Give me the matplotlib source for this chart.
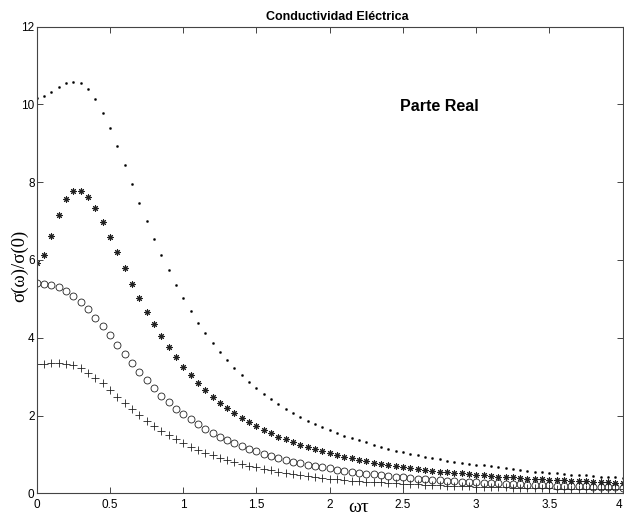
import matplotlib
matplotlib.use("Agg")
import matplotlib.pyplot as plt

wt = [0.00, 0.05, 0.10, 0.15, 0.20, 0.25, 0.30, 0.35, 0.40, 0.45,
      0.50, 0.55, 0.60, 0.65, 0.70, 0.75, 0.80, 0.85, 0.90, 0.95,
      1.00, 1.05, 1.10, 1.15, 1.20, 1.25, 1.30, 1.35, 1.40, 1.45,
      1.50, 1.55, 1.60, 1.65, 1.70, 1.75, 1.80, 1.85, 1.90, 1.95,
      2.00, 2.05, 2.10, 2.15, 2.20, 2.25, 2.30, 2.35, 2.40, 2.45,
      2.50, 2.55, 2.60, 2.65, 2.70, 2.75, 2.80, 2.85, 2.90, 2.95,
      3.00, 3.05, 3.10, 3.15, 3.20, 3.25, 3.30, 3.35, 3.40, 3.45,
      3.50, 3.55, 3.60, 3.65, 3.70, 3.75, 3.80, 3.85, 3.90, 3.95,
      4.00]

serie_puntos = [10.17, 10.21, 10.31, 10.44, 10.54, 10.59, 10.54, 10.39, 10.14, 9.79,
                9.39, 8.93, 8.44, 7.96, 7.47, 7.00, 6.55, 6.12, 5.73, 5.35,
                5.02, 4.69, 4.39, 4.12, 3.87, 3.63, 3.42, 3.21, 3.03, 2.85,
                2.70, 2.55, 2.42, 2.29, 2.17, 2.07, 1.96, 1.87, 1.78, 1.70,
                1.62, 1.55, 1.48, 1.42, 1.36, 1.31, 1.25, 1.20, 1.15, 1.10,
                1.06, 1.02, 0.98, 0.94, 0.91, 0.87, 0.84, 0.81, 0.78, 0.76,
                0.74, 0.72, 0.70, 0.67, 0.65, 0.62, 0.60, 0.58, 0.56, 0.55,
                0.53, 0.51, 0.50, 0.48, 0.47, 0.46, 0.44, 0.43, 0.42, 0.41,
                0.39]

serie_asteriscos = [5.92, 6.12, 6.61, 7.17, 7.57, 7.78, 7.78, 7.62, 7.33, 6.99,
                    6.59, 6.20, 5.79, 5.39, 5.03, 4.67, 4.35, 4.05, 3.75, 3.50,
                    3.26, 3.04, 2.84, 2.66, 2.48, 2.33, 2.19, 2.06, 1.94, 1.83,
                    1.72, 1.63, 1.54, 1.46, 1.39, 1.32, 1.25, 1.20, 1.14, 1.09,
                    1.04, 0.99, 0.94, 0.90, 0.86, 0.82, 0.79, 0.76, 0.73, 0.70,
                    0.68, 0.65, 0.62, 0.60, 0.58, 0.56, 0.54, 0.52, 0.51, 0.49,
                    0.48, 0.46, 0.45, 0.43, 0.42, 0.41, 0.39, 0.38, 0.37, 0.36,
                    0.35, 0.34, 0.33, 0.32, 0.31, 0.31, 0.30, 0.29, 0.28, 0.27,
                    0.26]

serie_circulos = [5.40, 5.38, 5.35, 5.30, 5.20, 5.08, 4.93, 4.74, 4.52, 4.29,
                  4.06, 3.81, 3.57, 3.34, 3.12, 2.91, 2.70, 2.51, 2.34, 2.18,
                  2.04, 1.90, 1.77, 1.66, 1.56, 1.46, 1.37, 1.29, 1.22, 1.15,
                  1.08, 1.02, 0.96, 0.91, 0.86, 0.81, 0.77, 0.73, 0.70, 0.67,
                  0.64, 0.61, 0.58, 0.56, 0.53, 0.50, 0.49, 0.46, 0.44, 0.43,
                  0.41, 0.39, 0.38, 0.36, 0.34, 0.33, 0.32, 0.31, 0.30, 0.29,
                  0.28, 0.27, 0.26, 0.255, 0.25, 0.24, 0.23, 0.225, 0.22, 0.21,
                  0.205, 0.20, 0.19, 0.185, 0.18, 0.175, 0.17, 0.16, 0.155, 0.15,
                  0.14]

serie_cruces = [3.33, 3.33, 3.34, 3.34, 3.33, 3.30, 3.23, 3.10, 2.97, 2.83,
                2.66, 2.48, 2.32, 2.16, 2.01, 1.87, 1.73, 1.61, 1.50, 1.39,
                1.29, 1.20, 1.12, 1.04, 0.98, 0.92, 0.86, 0.81, 0.75, 0.71,
                0.67, 0.63, 0.59, 0.56, 0.52, 0.50, 0.47, 0.44, 0.42, 0.39,
                0.37, 0.355, 0.34, 0.325, 0.31, 0.30, 0.29, 0.28, 0.27, 0.26,
                0.25, 0.24, 0.23, 0.22, 0.21, 0.205, 0.20, 0.19, 0.185, 0.175,
                0.17, 0.165, 0.16, 0.155, 0.15, 0.145, 0.14, 0.135, 0.13, 0.13,
                0.125, 0.12, 0.12, 0.115, 0.11, 0.11, 0.105, 0.105, 0.10, 0.10,
                0.10]

x_ticks = [0, 0.5, 1, 1.5, 2, 2.5, 3, 3.5, 4]
x_ticklabels = ["0", "0.5", "1", "1.5", "2", "2.5", "3", "3.5", "4"]
y_ticks = [0, 2, 4, 6, 8, 10, 12]
y_ticklabels = ["0", "2", "4", "6", "8", "10", "12"]

titulo = "Conductividad Eléctrica"
anotacion = "Parte Real"
etiqueta_y = "σ(ω)/σ(0)"
etiqueta_x = "ωτ"

sans = ["Liberation Sans", "DejaVu Sans"]
serif = ["Liberation Serif", "DejaVu Serif"]

W, H = 624, 519
fig = plt.figure(figsize=(W / 100, H / 100), dpi=100)
ax = fig.add_axes([36.7 / W, 1 - 493.3 / H, (622.7 - 36.7) / W, (493.3 - 26.7) / H])

ax.plot(wt, serie_puntos, linestyle="none", marker="o", markersize=1.5,
        markerfacecolor="black", markeredgecolor="black", markeredgewidth=0.3)
ax.plot(wt, serie_asteriscos, linestyle="none", marker=(8, 2, 0), markersize=4.6,
        markeredgecolor="#222222", markeredgewidth=0.75)
ax.plot(wt, serie_circulos, linestyle="none", marker="o", markersize=5.0,
        markerfacecolor="none", markeredgecolor="#222222", markeredgewidth=0.6)
ax.plot(wt, serie_cruces, linestyle="none", marker="+", markersize=5.5,
        markeredgecolor="#222222", markeredgewidth=0.6)

ax.set_xlim(0, 4)
ax.set_ylim(0, 12)
ax.set_xticks(x_ticks)
ax.set_xticklabels(x_ticklabels, family=sans, fontsize=8.5)
ax.get_xticklabels()[-1].set_horizontalalignment("right")
ax.set_yticks(y_ticks)
ax.set_yticklabels(y_ticklabels, family=sans, fontsize=8.5)
ax.tick_params(direction="in", length=4, width=0.7, top=True, right=True,
               color="#444444")
ax.tick_params(axis="y", pad=1.5)
ax.tick_params(axis="x", pad=4)
for s in ax.spines.values():
    s.set_linewidth(0.8)
    s.set_color("#444444")

ax.text(2.75, 9.96, anotacion, family=sans, fontsize=11.5, fontweight="bold",
        ha="center", va="center")

fig.text(337 / W, 1 - 17 / H, titulo, family=sans, fontsize=9, fontweight="bold",
         ha="center", va="center")
fig.text(19.5 / W, 1 - 266 / H, etiqueta_y, family=serif, fontsize=13.5,
         rotation=90, ha="center", va="center")
fig.text(359 / W, 1 - 508 / H, etiqueta_x, family=serif, fontsize=14,
         ha="center", va="center")

fig.savefig("out.png", dpi=100)
